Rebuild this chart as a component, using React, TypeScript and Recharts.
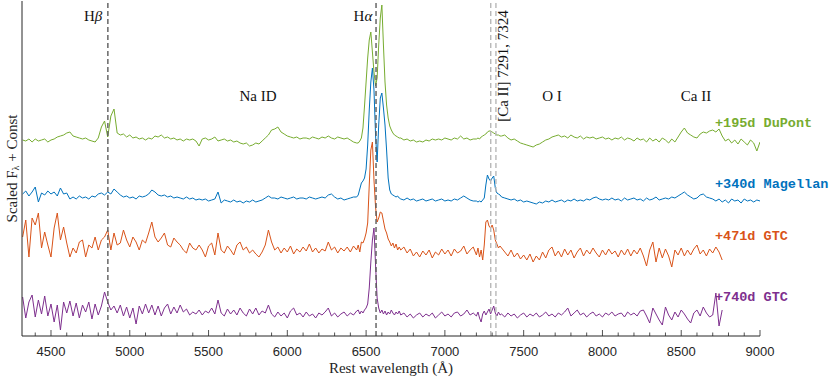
import React from 'react';
import { LineChart, Line, XAxis, YAxis, ReferenceLine, ReferenceDot } from 'recharts';

// wavelength grid segments [start, end, step] in Angstrom (finer around Halpha and [Ca II])
const gridSegments: [number, number, number][] = [
  [4320, 6420, 20],
  [6440, 6710, 10],
  [6720, 7180, 20],
  [7200, 7350, 10],
  [7360, 9000, 20],
];

// scaled flux (continuum-subtracted), one sub-array per grid segment
const dupontFlux = [
  [0, -1, 1, -2, 1, -1, 0, 1, -2, 0, 1, 3, 4, 5, 7, 8, 4, 3, 2, 1,
   2, 0, -1, -2, 2, 13, 19, 3, 24, 31, 7, 5, 6, 3, 5, 2, 3, 1, 2, 0,
   2, 1, 4, 3, 5, 2, 3, 1, 2, 0, 1, -1, 1, 0, 1, -1, -6, 1, 2, 0,
   1, 3, -1, 0, 1, -1, 0, -2, -1, -3, -4, -3, -6, -5, -3, -4, -1, 2, 5, 10,
   11, 13, 8, 6, 4, 3, 2, 3, 1, 2, 2, 1, 3, 2, 1, 3, 2, 4, 2, 1,
   3, 2, 1, 2, 0, -2],
  [-3, -3, -1, 2, 12, 34, 58, 82, 100, 108, 88, 68, 54, 62, 95, 122, 135, 95, 58, 35,
   22, 14, 10, 7, 5, 4, 3, 2],
  [2, 0, 1, -1, 0, -2, -1, -2, 0, -1, 1, 0, 1, 0, 2, 1, 0, 2, 1, 4, 1, 2, 0, 1],
  [1, 2, 1, 3, 4, 5, 6, 8, 9, 9, 8, 7, 6, 5, 5, 4],
  [4, 5, 2, 0, 1, -1, -3, -4, -5, -6, -7, -5, -4, -2, 0, 1, 3, 4, 5, 3,
   4, 2, 5, 3, 2, 4, 1, 3, 2, 3, 1, 2, 3, 1, 2, 0, 2, 1, 3, 0,
   2, 1, -1, 2, 0, 1, -2, 2, -1, 1, -2, 2, 0, -3, 1, -2, 3, 8, 12, 7,
   5, 3, 2, 6, 8, 7, 9, 10, 8, 11, 4, -1, 1, -3, 0, -4, 1, -2, -5, 0,
   -3, -11, -2],
];

const magellanFlux = [
  [3, 6, 1, 5, 10, -5, 4, 2, 6, 3, 5, 1, 9, 3, 4, -2, 0, -2, 1, -1,
   0, -2, 1, 0, 3, 4, 2, 5, 3, 8, 5, 2, 0, 1, -1, 0, -2, 1, 0, 1,
   3, 7, 5, 2, 1, 2, 0, 1, -1, 0, -1, -2, 0, -2, -1, -3, -2, -3, -2, -4,
   -3, -2, 5, -6, -3, -4, -5, -3, -5, -4, -6, -4, -5, -3, -5, -4, -3, -1, 1, -1,
   -1, -2, 0, -1, -2, -1, 0, -2, -1, -1, -2, 0, -1, -2, -1, 0, -1, 2, 3, 0,
   -2, -1, -3, -2, -1, 0],
  [0, 2, 8, 14, 16, 19, 28, 52, 87, 115, 129, 107, 62, 35, 72, 99, 104, 89, 72, 47,
   19, 7, 3, 2, 1, 0, 1, -1],
  [-2, -3, -1, -3, -2, -4, -3, -2, -4, -3, -2, -4, -3, -2, -4, -3, -4, -2, -3, -1, 1, -1, -3, -4],
  [-4, -5, -4, -5, -3, -1, 12, 22, 18, 16, 19, 21, 9, 4, 3, 2],
  [0, -1, -2, -3, -2, -4, -3, -5, -4, -5, -6, -7, -5, -6, -4, -5, -3, -5, -4, -3,
   -5, -3, -4, -2, -4, -3, -4, -2, -3, -1, 0, -2, -3, -2, -3, -1, -3, -2, -4, -1,
   -3, -2, -1, -3, -2, -4, -1, -3, -2, 0, -3, -2, -1, -2, 0, -1, 1, 3, 5, 2,
   0, -2, -1, 2, 3, 0, -1, -2, -4, -2, -5, -3, -6, -2, -4, -3, -6, -2, -4, -3,
   -5, -3, -4],
];

const gtc471Flux = [
  [8, 25, -12, 27, 20, 32, -3, 13, 0, -12, 17, 32, 5, 18, 2, -12, -3, -8, 3, 5,
   -12, 0, -3, 8, -5, 5, 8, 15, -5, 12, 0, 2, 15, 5, -2, 8, 3, -5, 5, 2,
   12, 23, 8, 3, 7, 12, 0, -2, 7, 3, 0, -5, -8, 2, -3, -5, 0, -5, -12, -1,
   2, -10, 12, -5, -8, -1, -5, -10, 0, 3, -5, -2, -8, -5, -9, -12, -7, 0, 15, 3,
   -5, -2, -8, -3, -7, -1, -9, -4, -7, -2, -6, 1, -7, -3, -8, -4, -6, 3, -5, -2,
   -8, -3, -6, -2, -7, -1],
  [-5, 0, -7, 3, 2, 6, 12, 22, 60, 95, 103, 65, 38, 23, 27, 33, 32, 24, 16, 12,
   6, 3, -1, 2, -3, 1, -5, -2],
  [-5, -2, -8, -4, -11, -7, -12, -6, -10, -5, -13, -7, -10, -4, -9, -5, -11, -4, -8, -6, -1, -9, -5, -2],
  [-10, -3, -12, -5, -15, 0, 23, 25, 19, 17, 20, 15, 5, 1, -3, -1],
  [-3, -7, -11, -5, -12, -8, -14, -10, -15, -9, -17, -11, -15, -7, -13, -5, -2, -11, -6, -12,
   -4, -10, -5, -13, -7, -3, -11, -5, -9, -3, -8, -12, -5, -10, -4, -9, -6, -12, -5, -10,
   -4, -11, -5, -9, -3, -11, -21, -5, 3, -17, -3, -13, -4, -11, -22, -5, -10, -3, -11, -5,
   -10, -4, 0, -9, -5, -11, -4, -8, -2, -7, -15],
];

const gtc740Flux = [
  [13, -8, 8, 15, -7, 10, -4, 14, -6, 6, -12, 5, -20, 8, -3, 9, -6, 7, -8, 5,
   -2, 8, -9, 6, -5, 4, 18, 8, 0, 4, -3, 5, -6, 3, -8, 2, -14, 4, -4, 6,
   -3, 5, -5, 4, -6, 2, 6, -4, 3, -3, 5, -2, 1, -5, -2, -4, 0, -5, -1, -3,
   2, -4, 10, -3, -6, 1, -4, 0, -5, 2, -3, -6, 1, -4, 2, -5, -1, -3, 5, -4,
   -7, -2, -6, -3, -8, -1, 2, -5, -3, -7, -2, -6, -4, -8, -3, -5, -2, 2, -6, -3,
   -7, -4, -2, -6, -3, -5],
  [-1, 0, -4, -1, -3, 0, 2, 6, 22, 48, 70, 82, 45, 12, 2, -3, 0, -4, -1, -5,
   -2, -4, 0, -3, -5, -2, -4, -1],
  [-5, -3, -7, -4, -8, -5, -3, -7, -4, -6, -3, -8, -5, -2, -6, -4, -7, -3, -2, -6, -4, 0, -5, -3],
  [-6, -2, -8, -12, -4, -1, -5, -2, 1, -4, 0, 4, -3, -6, -2, -5],
  [-4, -7, -3, -6, -4, -8, -5, -3, -7, -4, -6, -3, -7, -5, -2, -6, -4, -7, -3, -5,
   -2, 2, -6, -3, 0, -5, -3, -7, -4, -2, -6, -4, -7, -3, -5, -2, -6, -4, -3, -7,
   -2, -5, -3, -6, -1, 0, -6, -13, 2, -4, -10, -15, 3, -5, -10, -2, -7, 0, -4, -9,
   -13, -3, 0, -6, 3, -3, -7, -5, 17, -16, 0],
];

// vertical offsets ("+ Const") per spectrum
const offsets = [196, 139, 91, 26];
const epochLabels = ['+195d DuPont', '+340d Magellan', '+471d GTC', '+740d GTC'];
const colors = ['#77AC30', '#0072BD', '#D95319', '#7E2F8E'];
const fluxes = [dupontFlux, magellanFlux, gtc471Flux, gtc740Flux];
// where the epoch labels sit (wavelength, scaled flux)
const epochLabelPos = [[8714, 213], [8714, 152], [8714, 100], [8714, 39]];

const majorTicks = [4500, 5000, 5500, 6000, 6500, 7000, 7500, 8000, 8500, 9000];
const allTicks: number[] = [];
for (let t = 4400; t <= 9000; t += 100) allTicks.push(t);

const lineMarks = [
  { w: 4861, color: '#5c5c5c' },
  { w: 6563, color: '#5c5c5c' },
  { w: 7291, color: '#b8b8b8' },
  { w: 7324, color: '#b8b8b8' },
];

const featureLabels = [
  { main: 'H', greek: 'β', w: 4767, f: 320 },
  { main: 'H', greek: 'α', w: 6480, f: 320 },
  { main: 'Na ID', greek: '', w: 5814, f: 240 },
  { main: 'O I', greek: '', w: 7680, f: 240 },
  { main: 'Ca II', greek: '', w: 8594, f: 240 },
];

const AXIS = '#262626';
const SERIF = '"Liberation Serif", "DejaVu Serif", serif';
const SANS = '"Liberation Sans", Arial, sans-serif';
const MONO = '"Liberation Mono", "Courier New", monospace';

function buildSeries(segs: number[][], offset: number) {
  const out: { w: number; f: number }[] = [];
  segs.forEach((vals, s) => {
    const [start, , step] = gridSegments[s];
    vals.forEach((v, i) => out.push({ w: start + i * step, f: offset + v }));
  });
  return out;
}

const BottomTick = (props: any) => {
  const { x, y, payload } = props;
  const major = majorTicks.includes(payload.value);
  return (
    <g>
      <line x1={x} x2={x} y1={y} y2={y - (major ? 6 : 3.5)} stroke={AXIS} strokeWidth={0.8} />
      {major && (
        <text x={x} y={y + 15} textAnchor="middle" dominantBaseline="central"
          fontFamily={SANS} fontSize={13} fill={AXIS}>
          {payload.value}
        </text>
      )}
    </g>
  );
};

const TopTick = (props: any) => {
  const { x, y, payload } = props;
  const major = majorTicks.includes(payload.value);
  return <line x1={x} x2={x} y1={y} y2={y + (major ? 6 : 3.5)} stroke={AXIS} strokeWidth={0.8} />;
};

const YLabel = (props: any) => {
  const vb = props.viewBox || { x: 0, y: 1, width: 22, height: 335 };
  const cx = vb.x + 12;
  const cy = vb.y + vb.height / 2;
  return (
    <text x={cx} y={cy} transform={`rotate(-90 ${cx} ${cy})`} textAnchor="middle"
      dominantBaseline="central" fontFamily={SERIF} fontSize={15} fill={AXIS}>
      Scaled F<tspan fontSize={10} dy={3}>λ</tspan><tspan dy={-3}> + Const</tspan>
    </text>
  );
};

const XLabel = (props: any) => {
  const vb = props.viewBox || { x: 22, y: 336, width: 738, height: 30 };
  const cx = vb.x + vb.width / 2;
  return (
    <text x={cx} y={vb.y + 32} textAnchor="middle" dominantBaseline="central"
      fontFamily={SERIF} fontSize={15} fill={AXIS}>
      Rest wavelength (Å)
    </text>
  );
};

export default function App() {
  const series = fluxes.map((fl, i) => buildSeries(fl, offsets[i]));
  return (
    <div style={{ position: 'absolute', left: 0, top: 0, width: 830, height: 379, background: '#fff' }}>
      <LineChart width={830} height={379} margin={{ top: 1, right: 70, bottom: 13, left: 0 }}>
        <XAxis dataKey="w" type="number" domain={[4316, 9000]} allowDataOverflow ticks={allTicks}
          interval={0} tickSize={0} tickMargin={0} height={30} tickLine={false}
          axisLine={{ stroke: AXIS }} tick={<BottomTick />} label={<XLabel />} />
        <XAxis xAxisId="top" orientation="top" dataKey="w" type="number" domain={[4316, 9000]}
          allowDataOverflow ticks={allTicks} interval={0} tickSize={0} tickMargin={0} height={0}
          tickLine={false} axisLine={{ stroke: AXIS }} tick={<TopTick />} />
        <YAxis type="number" domain={[0, 335]} allowDataOverflow width={22} tick={false}
          tickLine={false} axisLine={{ stroke: AXIS }} label={<YLabel />} />
        <YAxis yAxisId="right" orientation="right" type="number" domain={[0, 335]} width={0}
          tick={false} tickLine={false} axisLine={{ stroke: AXIS }} />

        {series.map((d, i) => (
          <Line key={epochLabels[i]} data={d} dataKey="f" stroke={colors[i]} strokeWidth={1}
            dot={false} activeDot={false} isAnimationActive={false} />
        ))}

        {lineMarks.map((m) => (
          <ReferenceLine key={m.w} x={m.w} stroke={m.color} strokeWidth={1.4} strokeDasharray="5 3" />
        ))}

        {featureLabels.map((l) => (
          <ReferenceDot key={l.main + l.greek} x={l.w} y={l.f} r={0}
            shape={(p: any) => (
              <text x={p.cx} y={p.cy} textAnchor="middle" dominantBaseline="central"
                fontFamily={SERIF} fontSize={15} fill="#111">
                {l.main}
                {l.greek && <tspan fontStyle="italic">{l.greek}</tspan>}
              </text>
            )} />
        ))}

        <ReferenceDot x={7372} y={270} r={0}
          shape={(p: any) => (
            <text x={p.cx} y={p.cy} transform={`rotate(-90 ${p.cx} ${p.cy})`} textAnchor="middle"
              dominantBaseline="central" fontFamily={SERIF} fontSize={15} fill="#111">
              [Ca II] 7291, 7324
            </text>
          )} />

        {epochLabels.map((t, i) => (
          <ReferenceDot key={t} x={epochLabelPos[i][0]} y={epochLabelPos[i][1]} r={0}
            shape={(p: any) => (
              <text x={p.cx} y={p.cy} textAnchor="start" dominantBaseline="central"
                fontFamily={MONO} fontWeight="bold" fontSize={13.5} fill={colors[i]}>
                {t}
              </text>
            )} />
        ))}
      </LineChart>
    </div>
  );
}
